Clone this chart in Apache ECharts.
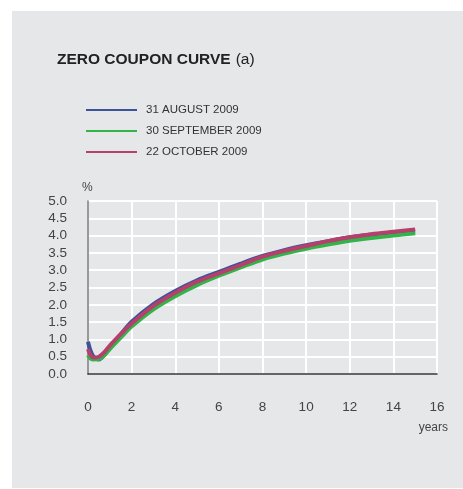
<!DOCTYPE html>
<html><head><meta charset="utf-8">
<script src="https://cdn.jsdelivr.net/npm/echarts@6/dist/echarts.min.js"></script>
<style>
html,body{margin:0;padding:0;background:#fff;width:463px;height:489px;overflow:hidden;}
#panel{position:absolute;left:12px;top:11px;width:451px;height:477px;background:#e6e7e9;}
#chart{position:absolute;left:0;top:0;width:463px;height:489px;}
</style></head>
<body><div id="panel"></div><div id="chart"></div>
<script>
const seriesNames = ['31 AUGUST 2009', '30 SEPTEMBER 2009', '22 OCTOBER 2009'];
const years = [0, 0.1, 0.25, 0.5, 0.75, 1, 1.5, 2, 3, 4, 5, 6, 7, 8, 9, 10, 11, 12, 13, 14, 15];
const aug = [0.93, 0.70, 0.50, 0.42, 0.55, 0.78, 1.15, 1.51, 2.02, 2.40, 2.71, 2.95, 3.19, 3.41, 3.58, 3.72, 3.84, 3.95, 4.03, 4.08, 4.12];
const sep = [0.55, 0.46, 0.42, 0.43, 0.54, 0.72, 1.05, 1.37, 1.87, 2.25, 2.57, 2.84, 3.08, 3.31, 3.48, 3.62, 3.74, 3.85, 3.93, 4.00, 4.07];
const oct = [0.72, 0.57, 0.48, 0.50, 0.63, 0.82, 1.15, 1.46, 1.97, 2.35, 2.67, 2.91, 3.15, 3.39, 3.56, 3.70, 3.84, 3.95, 4.04, 4.11, 4.18];
const xTicks = [0, 2, 4, 6, 8, 10, 12, 14, 16];
const yTicks = [0, 0.5, 1, 1.5, 2, 2.5, 3, 3.5, 4, 4.5, 5];
const colors = ['#3a539b', '#33b44a', '#b5406b'];
const values = [aug, sep, oct];

const chart = echarts.init(document.getElementById('chart'), null, {renderer: 'canvas'});
const font = '"Liberation Sans", Arial, sans-serif';
chart.setOption({
  backgroundColor: 'transparent',
  animation: false,
  textStyle: {fontFamily: font},
  title: {
    left: 52, top: 46,
    text: '{b|ZERO COUPON CURVE} {n|(a)}',
    textStyle: {rich: {
      b: {fontFamily: font, fontWeight: 'bold', fontSize: 15.5, color: '#222'},
      n: {fontFamily: font, fontWeight: 'normal', fontSize: 15.5, color: '#222'}
    }}
  },
  legend: {
    orient: 'vertical', left: 81, top: 99,
    itemWidth: 51, itemHeight: 2, itemGap: 9, icon: 'rect',
    textStyle: {fontFamily: font, fontSize: 11.5, color: '#333', padding: [0, 0, 0, 4]},
    data: seriesNames
  },
  grid: {left: 88, right: 26, top: 201, bottom: 115, containLabel: false},
  xAxis: {
    type: 'value', min: xTicks[0], max: xTicks[xTicks.length - 1], interval: 2,
    axisLine: {show: true, onZero: false, lineStyle: {color: '#333', width: 1.5}},
    axisTick: {show: false},
    axisLabel: {margin: 26, fontSize: 13.5, color: '#444', fontFamily: font},
    splitLine: {show: true, lineStyle: {color: '#fff', width: 2}}
  },
  yAxis: {
    type: 'value', min: yTicks[0], max: yTicks[yTicks.length - 1], interval: 0.5,
    axisLine: {show: true, lineStyle: {color: '#777', width: 1.5}},
    axisTick: {show: false},
    axisLabel: {margin: 21, fontSize: 13.5, color: '#444', fontFamily: font, formatter: v => v.toFixed(1)},
    splitLine: {show: true, lineStyle: {color: '#fff', width: 2}}
  },
  graphic: [
    {type: 'text', left: 82, top: 182, style: {text: '%', fontFamily: font, fontSize: 12, fill: '#444'}},
    {type: 'text', right: 15, top: 422, style: {text: 'years', fontFamily: font, fontSize: 12, fill: '#444'}}
  ],
  series: seriesNames.map((n, i) => ({
    name: n, type: 'line', symbol: 'none', smooth: 0.3,
    lineStyle: {color: colors[i], width: 4},
    itemStyle: {color: colors[i]},
    data: years.map((x, j) => [x, values[i][j]])
  }))
});
</script></body></html>
